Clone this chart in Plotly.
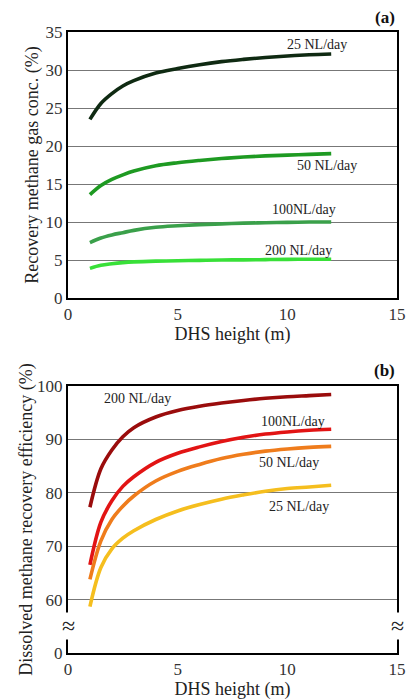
import plotly.graph_objects as go

heights = [1, 1.5, 2, 2.5, 3, 4, 5, 6, 7, 8, 9, 10, 11, 12]

# Panel (a): recovery methane gas concentration (%)
gas_25 = [23.5, 25.6, 26.9, 27.9, 28.6, 29.6, 30.2, 30.7, 31.1, 31.4, 31.65, 31.85, 32.0, 32.1]
gas_50 = [13.6, 14.8, 15.6, 16.2, 16.7, 17.4, 17.8, 18.1, 18.35, 18.55, 18.7, 18.8, 18.9, 19.0]
gas_100 = [7.3, 7.9, 8.3, 8.6, 8.9, 9.3, 9.5, 9.65, 9.75, 9.85, 9.9, 9.95, 10.0, 10.0]
gas_200 = [3.9, 4.3, 4.5, 4.65, 4.75, 4.85, 4.9, 4.95, 5.0, 5.02, 5.05, 5.08, 5.1, 5.1]

# Panel (b): dissolved methane recovery efficiency (%)
eff_200 = [77.3, 84.5, 88.0, 90.5, 92.2, 94.2, 95.4, 96.2, 96.8, 97.3, 97.7, 98.0, 98.2, 98.4]
eff_100 = [66.5, 74.5, 78.5, 81.2, 83.0, 85.7, 87.4, 88.6, 89.6, 90.4, 91.0, 91.4, 91.7, 91.9]
eff_50 = [63.8, 71.0, 75.0, 77.5, 79.4, 82.2, 84.0, 85.3, 86.4, 87.2, 87.8, 88.2, 88.5, 88.7]
eff_25 = [58.7, 66.0, 69.5, 71.5, 72.9, 75.0, 76.6, 77.8, 78.8, 79.6, 80.3, 80.8, 81.1, 81.4]

yb_tickvals = [50, 60, 70, 80, 90, 100]
yb_ticktext = ["0", "60", "70", "80", "90", "100"]

FONT = "Liberation Serif"

fig = go.Figure()

series_a = [
    (gas_25, "#0f2a12", "25 NL/day"),
    (gas_50, "#1e9a22", "50 NL/day"),
    (gas_100, "#3aa04a", "100NL/day"),
    (gas_200, "#38e038", "200 NL/day"),
]
for ys, col, name in series_a:
    fig.add_trace(go.Scatter(x=heights, y=ys, mode="lines", name=name,
                             line=dict(color=col, width=3.6, shape="spline"),
                             xaxis="x", yaxis="y", showlegend=False))

series_b = [
    (eff_200, "#9a0c0c", "200 NL/day"),
    (eff_100, "#e21414", "100NL/day"),
    (eff_50, "#ef7c1c", "50 NL/day"),
    (eff_25, "#f5be1e", "25 NL/day"),
]
for ys, col, name in series_b:
    fig.add_trace(go.Scatter(x=heights, y=ys, mode="lines", name=name,
                             line=dict(color=col, width=3.6, shape="spline"),
                             xaxis="x2", yaxis="y2", showlegend=False))

axis_common = dict(showline=True, linecolor="black", linewidth=2, mirror=True,
                   ticks="", tickfont=dict(family=FONT, size=17, color="#333"),
                   zeroline=False, automargin=False)

title_font = dict(family=FONT, size=18, color="#222")

fig.update_layout(
    width=406, height=700,
    margin=dict(l=0, r=0, t=0, b=0),
    paper_bgcolor="white", plot_bgcolor="white",
    font=dict(family=FONT, color="#222"),
    xaxis=dict(domain=[68/406, 397/406], range=[0, 15], tickvals=[0, 5, 10, 15],
               showgrid=False, anchor="y",
               title=dict(text="DHS height (m)", font=title_font, standoff=0),
               **axis_common),
    yaxis=dict(domain=[1-298/700, 1-32/700], range=[0, 35], tickvals=[0, 5, 10, 15, 20, 25, 30, 35],
               showgrid=True, gridcolor="#777", gridwidth=1.2, anchor="x",
               title=dict(text="Recovery methane gas conc. (%)", font=title_font, standoff=2),
               **axis_common),
    xaxis2=dict(domain=[68/406, 397/406], range=[0, 15], tickvals=[0, 5, 10, 15],
                showgrid=False, anchor="y2",
                title=dict(text="DHS height (m)", font=title_font, standoff=0),
                **axis_common),
    yaxis2=dict(domain=[1-653/700, 1-386/700], range=[50, 100], tickvals=yb_tickvals, ticktext=yb_ticktext,
                showgrid=True, gridcolor="#777", gridwidth=1.2, anchor="x2",
                title=dict(text="Dissolved methane recovery efficiency (%)", font=title_font, standoff=0),
                **axis_common),
)

ann_font = dict(family=FONT, size=14, color="#222")
labels = [
    ("x", "y", 11.35, 33.3, "25 NL/day"),
    ("x", "y", 11.8, 17.4, "50 NL/day"),
    ("x", "y", 10.76, 11.7, "100NL/day"),
    ("x", "y", 10.53, 6.3, "200 NL/day"),
    ("x2", "y2", 3.15, 97.6, "200 NL/day"),
    ("x2", "y2", 10.26, 93.4, "100NL/day"),
    ("x2", "y2", 10.07, 85.6, "50 NL/day"),
    ("x2", "y2", 10.53, 77.5, "25 NL/day"),
]
for xr, yr, xv, yv, t in labels:
    fig.add_annotation(x=xv, y=yv, xref=xr, yref=yr, text=t, showarrow=False, font=ann_font)

fig.add_annotation(x=397/406, y=1-18/700, xref="paper", yref="paper", xanchor="right", yanchor="middle",
                   text="<b>(a)</b>", showarrow=False, font=dict(family=FONT, size=17, color="#111"))
fig.add_annotation(x=397/406, y=1-370/700, xref="paper", yref="paper", xanchor="right", yanchor="middle",
                   text="<b>(b)</b>", showarrow=False, font=dict(family=FONT, size=17, color="#111"))

# axis break marks
for xv in [0, 15]:
    fig.add_annotation(x=xv, y=55, xref="x2", yref="y2", text="≈", showarrow=False,
                       bgcolor="white", borderpad=0,
                       font=dict(family=FONT, size=24, color="#222"))

fig.write_html("out.html", config={"displayModeBar": False},
               post_script="document.body.style.margin='0';document.body.style.overflow='hidden';")
